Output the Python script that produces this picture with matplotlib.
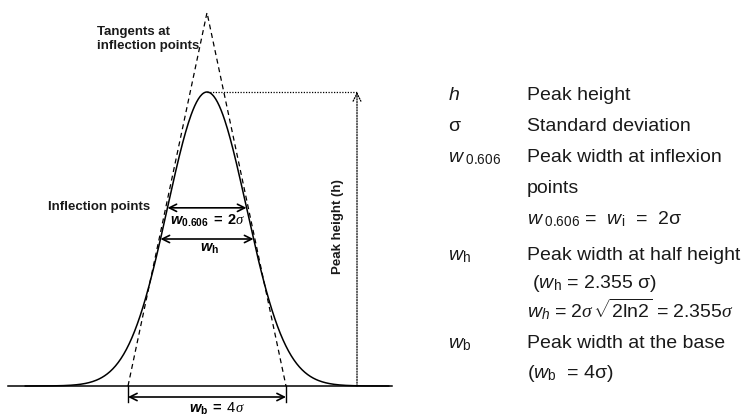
import matplotlib.pyplot as plt
import numpy as np

plt.rcParams['font.family'] = ['Liberation Sans', 'DejaVu Sans']
plt.rcParams['mathtext.fontset'] = 'custom'
plt.rcParams['mathtext.rm'] = 'Liberation Sans'
plt.rcParams['mathtext.sf'] = 'Liberation Sans:italic'
plt.rcParams['mathtext.it'] = 'Liberation Serif:italic'
plt.rcParams['mathtext.bf'] = 'Liberation Sans:bold'
plt.rcParams['mathtext.bfit'] = 'Liberation Sans:bold:italic'

# peak parameters (x in sigma units, y in units of peak height)
sigma = 1.0
peak_height = 1.0
inflection_level = 0.606
half_level = 0.5
half_width = 2.355
base_width = 4.0
tangent_top = 1.27

legend_symbols = [r'$\mathsf{h}$', 'σ', r'$\mathsf{w}_{\ \mathrm{0.606}}$', '', '',
                  r'$\mathsf{w}_\mathrm{h}$', '', '', r'$\mathsf{w}_\mathrm{b}$', '']
legend_texts = ['Peak height',
                'Standard deviation',
                'Peak width at inflexion',
                'points',
                r'$\mathsf{w}_{\ \mathrm{0.606}}$ =  $\mathsf{w}_\mathrm{i}$  =  2σ',
                'Peak width at half height',
                r' ($\mathsf{w}_\mathrm{h}$ = 2.355 σ)',
                r'$\mathsf{w}_{\mathsf{h}}\,=\,2\sigma\,\sqrt{\mathrm{2ln2}}\,=\,2.355\sigma$',
                'Peak width at the base',
                r'($\mathsf{w}_\mathrm{b}$  = 4σ)']
legend_baselines = [100, 131, 162, 193, 224, 260, 288, 317, 348, 378]

W, H = 746, 418
x0_px, sig_px, base_px, h_px = 207, 39.5, 386, 294


def px(x, y):
    return (x - x0_px) / sig_px, (base_px - y) / h_px


fig = plt.figure(figsize=(W / 100, H / 100), dpi=100)
ax = fig.add_axes([0, 0, 1, 1])
ax.axis('off')
ax.set_xlim(-x0_px / sig_px, (W - x0_px) / sig_px)
ax.set_ylim(-(H - base_px) / h_px, base_px / h_px)

# baseline and gaussian
ax.plot([px(8, 0)[0], px(392, 0)[0]], [0, 0], color='k', lw=1.1)
x = np.linspace(-4.6, 4.6, 400)
ax.plot(x, peak_height * np.exp(-x ** 2 / (2 * sigma ** 2)), color='k', lw=1.1)

# tangents
ax.plot([-base_width / 2, 0, base_width / 2], [0, tangent_top, 0],
        color='k', lw=0.9, ls=(0, (4, 3)))

arrow = dict(arrowstyle='<->', color='k', lw=1.2, shrinkA=0, shrinkB=0,
             mutation_scale=13)
w606 = inflection_level
ax.annotate('', xy=(sigma, w606), xytext=(-sigma, w606), arrowprops=arrow)
ax.annotate('', xy=(half_width / 2, half_level), xytext=(-half_width / 2, half_level),
            arrowprops=arrow)
yb = px(0, 397)[1]
ax.annotate('', xy=(base_width / 2, yb), xytext=(-base_width / 2, yb), arrowprops=arrow)
for xe in (-base_width / 2, base_width / 2):
    ax.plot([xe, xe], [0, px(0, 402)[1]], color='k', lw=1.0)

# peak height marker
xh = px(357, 0)[0]
ax.plot([0, xh], [peak_height, peak_height], color='k', lw=0.9, ls=(0, (1, 1.2)))
ax.annotate('', xy=(xh, peak_height), xytext=(xh, 0),
            arrowprops=dict(arrowstyle='->', color='k', lw=0.9, ls=(0, (1, 1.2)),
                            shrinkA=0, shrinkB=0, mutation_scale=14))

# diagram labels
bold = dict(fontsize=9.5, fontweight='bold', color='#1a1a1a')
ax.text(*px(97, 35), 'Tangents at', ha='left', va='baseline', **bold)
ax.text(*px(97, 49), 'inflection points', ha='left', va='baseline', **bold)
ax.text(*px(48, 210.5), 'Inflection points', ha='left', va='baseline', **bold)
ax.text(*px(338, 227), 'Peak height (h)', rotation=90, ha='center', va='center', **bold)

ax.text(*px(208, 225), r'$\mathbfit{w}_{\mathbf{0.606}}\mathbf{\ =\ 2}\sigma$',
        ha='center', va='baseline', fontsize=10.5)
ax.text(*px(210, 252), r'$\mathbfit{w}_{\mathbf{h}}$', ha='center', va='baseline',
        fontsize=10.5)
ax.text(*px(217, 413), r'$\mathbfit{w}_{\mathbf{b}}\mathbf{\ =\ }\mathrm{4}\sigma$',
        ha='center', va='baseline', fontsize=10.5)

# legend
for sym, txt, yb_px in zip(legend_symbols, legend_texts, legend_baselines):
    if sym:
        fig.text(448 / W, 1 - yb_px / H, sym, ha='left', va='baseline',
                 fontsize=14, color='#1a1a1a')
    fig.text(527 / W, 1 - yb_px / H, txt, ha='left', va='baseline',
             fontsize=14, color='#1a1a1a')

fig.savefig('out.png', dpi=100)
